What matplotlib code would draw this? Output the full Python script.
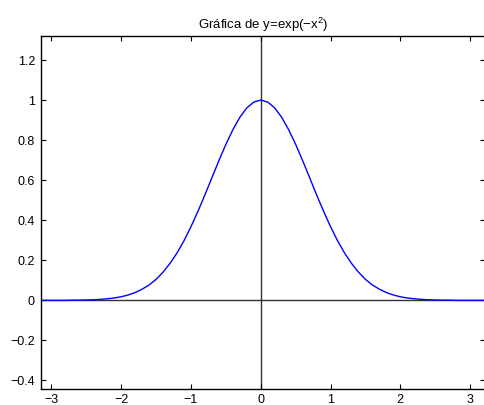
import matplotlib
matplotlib.use("Agg")
import matplotlib.pyplot as plt

plt.rcParams['font.family'] = ['Liberation Sans', 'DejaVu Sans']
plt.rcParams['mathtext.fontset'] = 'custom'
plt.rcParams['mathtext.rm'] = 'Liberation Sans'
plt.rcParams['mathtext.it'] = 'Liberation Sans'

x_values = [-3.2, -3.1, -3.0, -2.9, -2.8, -2.7, -2.6, -2.5, -2.4, -2.3, -2.2, -2.1,
            -2.0, -1.9, -1.8, -1.7, -1.6, -1.5, -1.4, -1.3, -1.2, -1.1, -1.0, -0.9,
            -0.8, -0.7, -0.6, -0.5, -0.4, -0.3, -0.2, -0.1, 0.0, 0.1, 0.2, 0.3, 0.4,
            0.5, 0.6, 0.7, 0.8, 0.9, 1.0, 1.1, 1.2, 1.3, 1.4, 1.5, 1.6, 1.7, 1.8,
            1.9, 2.0, 2.1, 2.2, 2.3, 2.4, 2.5, 2.6, 2.7, 2.8, 2.9, 3.0, 3.1, 3.2]
y_values = [0.000, 0.000, 0.000, 0.000, 0.000, 0.001, 0.001, 0.002, 0.003, 0.005,
            0.008, 0.012, 0.018, 0.027, 0.039, 0.056, 0.077, 0.105, 0.141, 0.185,
            0.237, 0.298, 0.368, 0.445, 0.527, 0.613, 0.698, 0.779, 0.852, 0.914,
            0.961, 0.990, 1.000, 0.990, 0.961, 0.914, 0.852, 0.779, 0.698, 0.613,
            0.527, 0.445, 0.368, 0.298, 0.237, 0.185, 0.141, 0.105, 0.077, 0.056,
            0.039, 0.027, 0.018, 0.012, 0.008, 0.005, 0.003, 0.002, 0.001, 0.001,
            0.000, 0.000, 0.000, 0.000, 0.000]
x_ticks = [-3, -2, -1, 0, 1, 2, 3]
y_ticks = [-0.4, -0.2, 0, 0.2, 0.4, 0.6, 0.8, 1, 1.2]
y_tick_labels = ['\u22120.4', '\u22120.2', '0', '0.2', '0.4', '0.6', '0.8', '1', '1.2']
x_tick_labels = ['\u22123', '\u22122', '\u22121', '0', '1', '2', '3']
title = 'Gráfica de y=exp(\u2212x$^{2}$)'

fig = plt.figure(figsize=(4.84, 4.05), dpi=100)
ax = fig.add_axes([40.5/484, 16.3/405, (485.5-40.5)/484, (388.7-36)/405])

ax.axhline(0, color='#333333', lw=1.0, zorder=1)
ax.axvline(0, color='#333333', lw=1.0, zorder=1)
ax.plot(x_values, y_values, color='#0000ff', lw=1.0, zorder=2)

ax.set_xlim(-3.157, 3.221)
ax.set_ylim(-0.441, 1.32)
ax.set_xticks(x_ticks)
ax.set_xticklabels(x_tick_labels)
ax.set_yticks(y_ticks)
ax.set_yticklabels(y_tick_labels)
ax.tick_params(direction='in', length=3.5, width=0.8, top=True, right=True,
               labelsize=9, colors='black')
ax.tick_params(axis='y', pad=4)
ax.tick_params(axis='x', pad=4)
for s in ax.spines.values():
    s.set_linewidth(1.0)
    s.set_color('black')
ax.set_title(title, fontsize=9.5, pad=5)

fig.savefig('out.png', dpi=100)
